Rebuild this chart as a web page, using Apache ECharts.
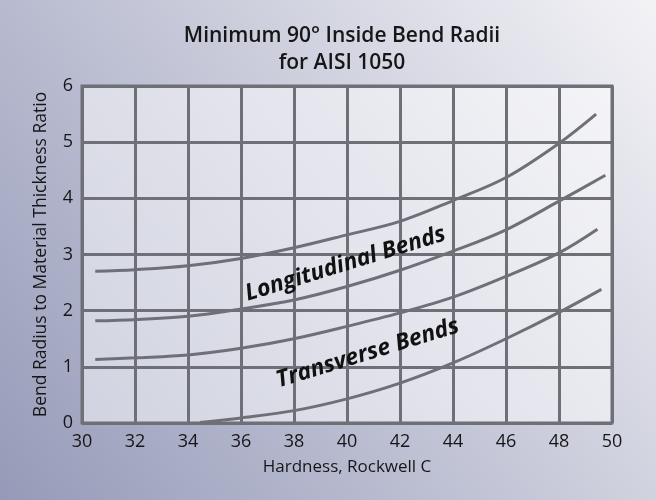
<!DOCTYPE html>
<html>
<head>
<meta charset="UTF-8">
<title>Minimum 90° Inside Bend Radii for AISI 1050</title>
<script src="https://cdn.jsdelivr.net/npm/echarts@6/dist/echarts.min.js"></script>
<style>
  html, body { margin: 0; padding: 0; }
  #main { width: 656px; height: 500px; }
</style>
</head>
<body>
<div id="main"></div>
<script>
// values
var hardnessA = [30.5, 32, 34, 36, 38, 40, 42, 44, 46, 48, 49.4];
var longUpper = [2.70, 2.73, 2.80, 2.93, 3.12, 3.35, 3.59, 3.96, 4.37, 4.98, 5.50];

var hardnessB = [30.5, 32, 34, 36, 38, 40, 42, 44, 46, 48, 49.75];
var longLower = [1.82, 1.84, 1.90, 2.03, 2.19, 2.43, 2.72, 3.06, 3.44, 3.95, 4.41];

var hardnessC = [30.5, 32, 34, 36, 38, 40, 42, 44, 46, 48, 49.45];
var transUpper = [1.13, 1.16, 1.21, 1.33, 1.50, 1.72, 1.96, 2.24, 2.61, 3.03, 3.45];

var hardnessD = [34.45, 36, 38, 40, 42, 44, 46, 48, 49.6];
var transLower = [0.01, 0.09, 0.22, 0.43, 0.71, 1.07, 1.50, 1.97, 2.38];

// label anchors (data coords) for the two curve groups
var labelNames = ['Longitudinal Bends', 'Transverse Bends'];
var labelAt = [[39.94, 2.83], [40.78, 1.24]];

var FONT = '"Open Sans", "Noto Sans", sans-serif';
var LINE = '#6f7077';
var INK = '#161618';

function pairs(xs, ys) {
    var out = [];
    for (var i = 0; i < xs.length; i++) out.push([xs[i], ys[i]]);
    return out;
}

function curve(name, xs, ys, tag) {
    var s = {
        name: name,
        type: 'line',
        data: pairs(xs, ys),
        smooth: 0.35,
        showSymbol: false,
        silent: true,
        lineStyle: { color: LINE, width: 3 },
        z: 3
    };
    if (tag != null) {
        s.markPoint = {
            symbol: 'circle',
            symbolSize: 0,
            silent: true,
            label: {
                show: true,
                position: 'inside',
                formatter: labelNames[tag],
                rotate: 17,
                color: '#111',
                fontFamily: FONT,
                fontSize: 23,
                fontWeight: 'bold',
                fontStyle: 'italic'
            },
            data: [{ coord: labelAt[tag] }]
        };
    }
    return s;
}

var myChart = echarts.init(document.getElementById('main'));
var option = {
    animation: false,
    backgroundColor: new echarts.graphic.LinearGradient(0, 1, 1, 0, [
        { offset: 0, color: '#959ab8' },
        { offset: 1, color: '#f3f3f6' }
    ]),
    title: {
        text: 'Minimum 90° Inside Bend Radii\nfor AISI 1050',
        left: 337,
        textAlign: 'center',
        top: 18,
        textStyle: {
            fontFamily: FONT,
            fontSize: 21,
            fontWeight: 600,
            lineHeight: 27,
            color: INK
        }
    },
    grid: {
        left: 82, right: 44, top: 86, bottom: 77,
        show: true,
        backgroundColor: 'rgba(255,255,255,0.5)',
        borderColor: LINE,
        borderWidth: 3
    },
    xAxis: {
        type: 'value',
        min: 30, max: 50, interval: 2,
        name: 'Hardness, Rockwell C',
        nameLocation: 'middle',
        nameGap: 36,
        nameTextStyle: { fontFamily: FONT, fontSize: 17, fontWeight: 500, color: INK },
        axisLine: { show: false },
        axisTick: { show: false },
        axisLabel: { margin: 10, fontFamily: FONT, fontSize: 18, fontWeight: 500, color: INK },
        splitLine: { show: true, lineStyle: { color: LINE, width: 3 } }
    },
    yAxis: {
        type: 'value',
        min: 0, max: 6, interval: 1,
        name: 'Bend Radius to Material Thickness Ratio',
        nameLocation: 'middle',
        nameGap: 32,
        nameTextStyle: { fontFamily: FONT, fontSize: 17.5, fontWeight: 500, color: INK },
        axisLine: { show: false },
        axisTick: { show: false },
        axisLabel: { margin: 9, fontFamily: FONT, fontSize: 18, fontWeight: 500, color: INK },
        splitLine: { show: true, lineStyle: { color: LINE, width: 3 } }
    },
    series: [
        curve('Longitudinal upper', hardnessA, longUpper, 0),
        curve('Longitudinal lower', hardnessB, longLower, null),
        curve('Transverse upper', hardnessC, transUpper, 1),
        curve('Transverse lower', hardnessD, transLower, null)
    ]
};
myChart.setOption(option);
</script>
</body>
</html>
